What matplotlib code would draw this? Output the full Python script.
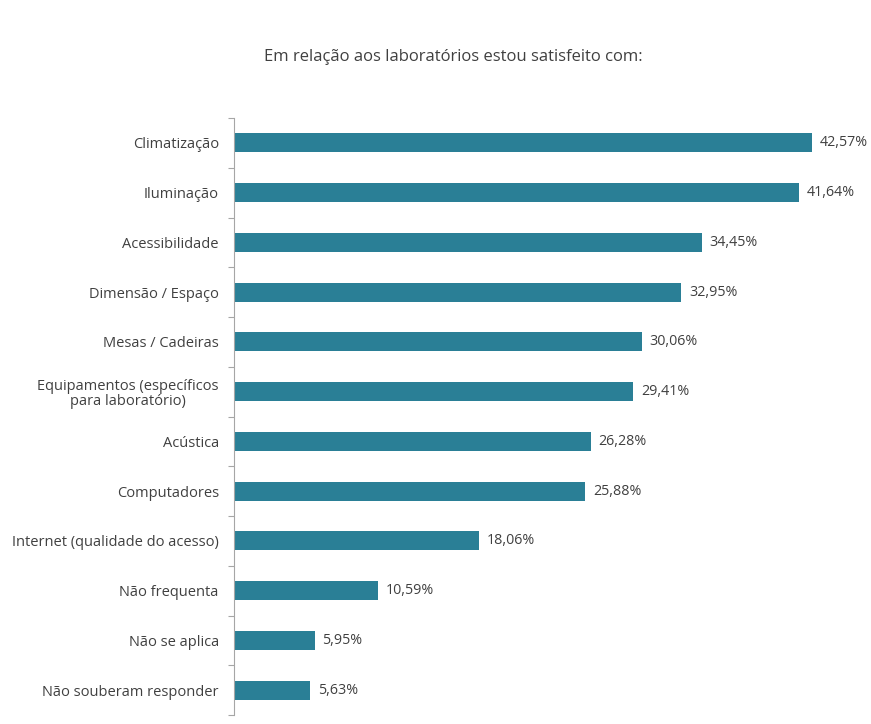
import matplotlib
matplotlib.use("Agg")
import matplotlib.pyplot as plt
import numpy as np

categories = [
    "Climatização",
    "Iluminação",
    "Acessibilidade",
    "Dimensão / Espaço",
    "Mesas / Cadeiras",
    "Equipamentos (específicos\npara laboratório)",
    "Acústica",
    "Computadores",
    "Internet (qualidade do acesso)",
    "Não frequenta",
    "Não se aplica",
    "Não souberam responder",
]
values = [42.57, 41.64, 34.45, 32.95, 30.06, 29.41, 26.28, 25.88, 18.06, 10.59, 5.95, 5.63]

BAR_COLOR = "#2a7f96"
TEXT_COLOR = "#404040"

plt.rcParams["font.family"] = ["Open Sans", "DejaVu Sans"]

fig = plt.figure(figsize=(8.71, 7.24), dpi=100)
ax = fig.add_axes([0.2687, 0.0124, 0.7015, 0.8246])

y = np.arange(len(categories))
ax.barh(y, values, height=0.38, color=BAR_COLOR)
ax.set_ylim(len(categories) - 0.5, -0.5)
ax.set_xlim(0, 45)

for yi, v in zip(y, values):
    ax.text(v + 0.55, yi, f"{v:.2f}%".replace(".", ","), va="center", ha="left",
            fontsize=10.3, color=TEXT_COLOR)

ax.set_yticks(y)
ax.set_yticklabels(categories, fontsize=10.5, color=TEXT_COLOR,
                   multialignment="center", linespacing=1.05)
ax.tick_params(axis="y", which="major", length=0, pad=11)
# boundary ticks between categories
ax.set_yticks(np.arange(-0.5, len(categories)), minor=True)
ax.tick_params(axis="y", which="minor", length=4, color="#a6a6a6", width=0.8)
ax.set_xticks([])

for side in ["top", "right", "bottom"]:
    ax.spines[side].set_visible(False)
ax.spines["left"].set_color("#a6a6a6")
ax.spines["left"].set_linewidth(0.8)

fig.text(0.521, 0.921, "Em relação aos laboratórios estou satisfeito com:",
         ha="center", va="center", fontsize=12, color=TEXT_COLOR)

fig.savefig("out.png", dpi=100, facecolor="white")
